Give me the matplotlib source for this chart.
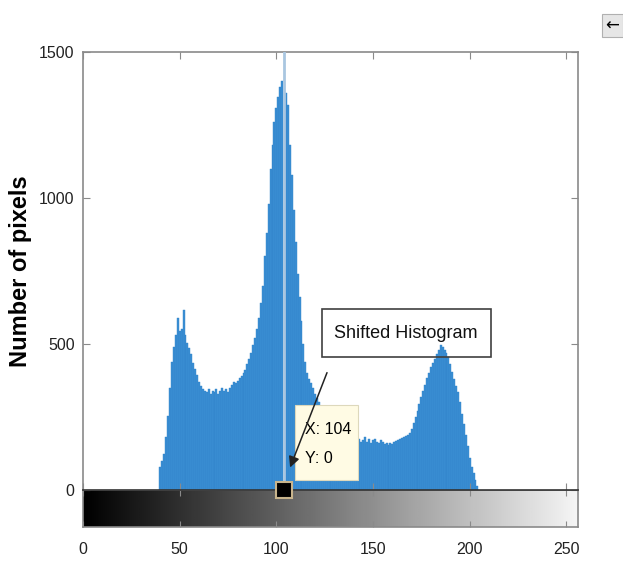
import matplotlib
matplotlib.use("Agg")
import matplotlib.pyplot as plt
import numpy as np
from matplotlib.patches import Rectangle, FancyArrowPatch

plt.rcParams["font.family"] = ["Liberation Sans", "DejaVu Sans"]

# ---- data ----
first_bin = 40
counts = [
    80, 100, 125, 180, 255, 350, 440, 490, 530, 590,        # 40-49
    545, 550, 615, 530, 505, 485, 465, 435, 415, 395,       # 50-59
    370, 355, 345, 338, 335, 345, 330, 340, 335, 345,       # 60-69
    330, 338, 350, 340, 345, 335, 350, 360, 370, 365,       # 70-79
    375, 385, 392, 400, 410, 430, 450, 470, 495, 520,       # 80-89
    550, 590, 640, 700, 800, 880, 980, 1100, 1180, 1260,    # 90-99
    1310, 1345, 1380, 1400, 0, 1360, 1320, 1180, 1080, 960, # 100-109
    850, 740, 660, 580, 500, 440, 400, 380, 365, 350,       # 110-119
    330, 315, 300, 285, 270, 255, 245, 235, 225, 215,       # 120-129
    205, 198, 190, 182, 178, 172, 170, 165, 168, 160,       # 130-139
    165, 170, 160, 175, 165, 170, 180, 165, 175, 160,       # 140-149
    170, 175, 165, 160, 170, 165, 158, 162, 155, 160,       # 150-159
    158, 165, 168, 172, 176, 178, 182, 185, 190, 195,       # 160-169
    210, 230, 250, 270, 295, 320, 340, 360, 385, 400,       # 170-179
    420, 435, 450, 465, 480, 495, 490, 480, 470, 455,       # 180-189
    430, 405, 380, 355, 335, 300, 260, 225, 190, 150,       # 190-199
    110, 80, 60, 35, 15,                                    # 200-204
]
bins = np.arange(first_bin, first_bin + len(counts))

tip_x = 104
tip_y = 0
x_ticks = [0, 50, 100, 150, 200, 250]
y_ticks = [0, 500, 1000, 1500]

frame_col = "#8a8a8a"
bar_col = "#3a8fd4"

fig = plt.figure(figsize=(6.23, 5.65), dpi=100)

# gray-level bar below (made first so the main axes sits on top of it)
cax = fig.add_axes([0.1332, 0.0673, 0.7946, 0.0654])
grad = np.linspace(0, 1, 256).reshape(1, -1)
cax.imshow(grad, cmap="gray", aspect="auto", extent=(0, 256, 0, 1), vmin=0, vmax=1.04)
cax.set_xlim(0, 256)
cax.set_yticks([])
cax.set_xticks(x_ticks)
cax.tick_params(direction="in", top=True, length=4, color=frame_col,
                labelsize=11.5, labelcolor="#222222", pad=11)
for s in cax.spines.values():
    s.set_color(frame_col)
    s.set_linewidth(1.2)

# main histogram axes
ax = fig.add_axes([0.1332, 0.1327, 0.7946, 0.7752])
ax.set_zorder(2)
ax.bar(bins, counts, width=1.0, color=bar_col, edgecolor="#3182c8", linewidth=0.3)
ax.axvline(tip_x, color="#a9c6e0", lw=2, zorder=3)
ax.set_xlim(0, 256)
ax.set_ylim(0, 1500)
ax.set_xticks(x_ticks)
ax.set_xticklabels([])
ax.set_yticks(y_ticks)
ax.tick_params(direction="in", top=True, right=True, length=5, color=frame_col,
               labelsize=11.5, labelcolor="#222222", pad=6)
for s in ax.spines.values():
    s.set_color(frame_col)
    s.set_linewidth(1.2)
ax.spines["bottom"].set_color("#333333")
ax.set_ylabel("Number of pixels", fontsize=17, fontweight="bold")
ax.yaxis.set_label_coords(-0.103, 0.5)

# datatip marker
ax.plot([tip_x], [tip_y], "s", ms=12, mfc="black", mec="#c8b48c", mew=1.5,
        clip_on=False, zorder=6)

# "Shifted Histogram" annotation
fig.patches.append(Rectangle((0.517, 0.368), 0.271, 0.085, transform=fig.transFigure,
                             fill=False, edgecolor="#404040", lw=1.2, zorder=9))
fig.text(0.652, 0.410, "Shifted Histogram", ha="center", va="center", fontsize=13,
         color="#111111", zorder=9)
fig.patches.append(FancyArrowPatch((0.5265, 0.345), (0.464, 0.168),
                                   transform=fig.transFigure, arrowstyle="-|>",
                                   mutation_scale=16, color="#222222", lw=1.1,
                                   zorder=12))

# datatip box
fig.patches.append(Rectangle((0.4735, 0.150), 0.101, 0.133, transform=fig.transFigure,
                             facecolor="#fffbe4", edgecolor="#ddd8bc", lw=0.8, zorder=10))
fig.text(0.489, 0.240, "X: 104", fontsize=11.5, va="center", zorder=11)
fig.text(0.489, 0.188, "Y: 0", fontsize=11.5, va="center", zorder=11)

# small back button in the corner
fig.patches.append(Rectangle((0.966, 0.935), 0.034, 0.040, transform=fig.transFigure,
                             facecolor="#e6e6e6", edgecolor="#b0b0b0", lw=0.8, zorder=9))
fig.text(0.983, 0.955, "\u2190", fontsize=12, ha="center", va="center",
         family="DejaVu Sans", zorder=10)

fig.savefig("out.png", dpi=100)
